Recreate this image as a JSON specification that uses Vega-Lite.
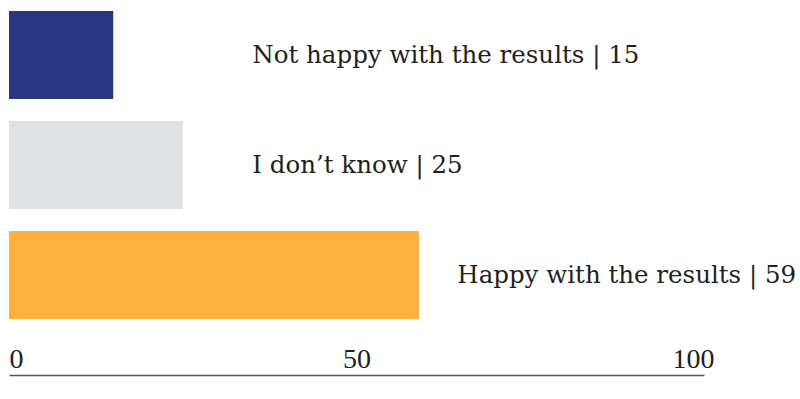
{
  "$schema": "https://vega.github.io/schema/vega-lite/v6.json",
  "autosize": "none",
  "width": 695,
  "height": 330,
  "padding": {"left": 9, "top": 0, "right": 96, "bottom": 69},
  "background": "white",
  "config": {"view": {"stroke": null}, "font": "Liberation Serif"},
  "data": {
    "values": [
      {"category": "Not happy with the results", "value": 15},
      {"category": "I don’t know", "value": 25},
      {"category": "Happy with the results", "value": 59}
    ]
  },
  "transform": [
    {"calculate": "datum.category + ' | ' + datum.value", "as": "label"},
    {"calculate": "max(datum.value + 5.5, 35)", "as": "labelpos"}
  ],
  "encoding": {
    "y": {
      "field": "category",
      "type": "nominal",
      "sort": null,
      "axis": null,
      "scale": {"paddingInner": 0.2, "paddingOuter": 0.1}
    }
  },
  "layer": [
    {
      "mark": {"type": "bar"},
      "encoding": {
        "x": {
          "field": "value",
          "type": "quantitative",
          "scale": {"domain": [0, 100], "nice": false},
          "axis": {
            "values": [0, 50, 100],
            "title": null,
            "grid": false,
            "ticks": false,
            "offset": 45,
            "domainColor": "#555555",
            "domainWidth": 1.5,
            "labelFont": "Liberation Serif",
            "labelFontSize": 28,
            "labelColor": "#231f20",
            "labelBaseline": "alphabetic",
            "labelPadding": -8,
            "labelAlign": {"condition": {"test": "datum.value == 0", "value": "left"}, "value": "center"},
            "labelOffset": {"condition": {"test": "datum.value == 100", "value": -11}, "value": 0}
          }
        },
        "color": {
          "field": "category",
          "type": "nominal",
          "scale": {
            "domain": ["Not happy with the results", "I don’t know", "Happy with the results"],
            "range": ["#293682", "#e0e1e3", "#fbb040"]
          },
          "legend": null
        }
      }
    },
    {
      "mark": {
        "type": "text",
        "align": "left",
        "baseline": "alphabetic",
        "dy": 8,
        "font": "DejaVu Serif",
        "fontSize": 24.5,
        "color": "#231f20"
      },
      "encoding": {
        "x": {"field": "labelpos", "type": "quantitative"},
        "text": {"field": "label"}
      }
    }
  ]
}
